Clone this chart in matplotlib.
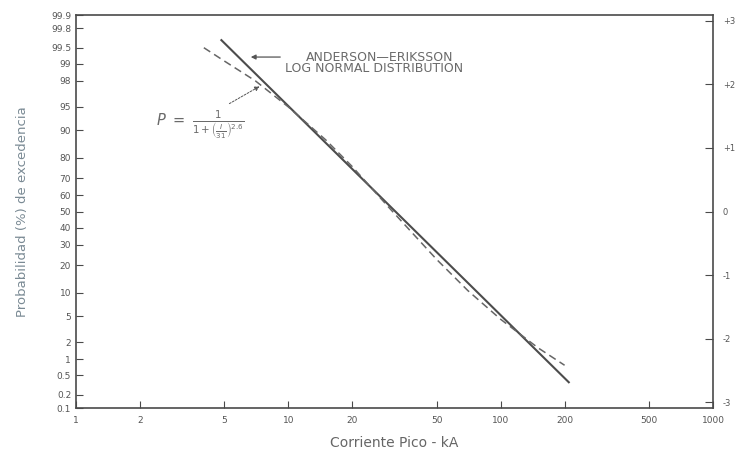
import numpy as np
import matplotlib
matplotlib.use("Agg")
import matplotlib.pyplot as plt
from statistics import NormalDist

# ---- data ----
x_ticks = [1, 2, 5, 10, 20, 50, 100, 200, 500, 1000]
x_ticklabels = ["1", "2", "5", "10", "20", "50", "100", "200", "500", "1000"]
y_ticks = [0.1, 0.2, 0.5, 1, 2, 5, 10, 20, 30, 40, 50, 60, 70, 80, 90, 95, 98, 99, 99.5, 99.8, 99.9]
y_ticklabels = ["0.1", "0.2", "0.5", "1", "2", "5", "10", "20", "30", "40", "50", "60", "70",
                "80", "90", "95", "98", "99", "99.5", "99.8", "99.9"]
sigma_ticks = [-3, -2, -1, 0, 1, 2, 3]
sigma_labels = ["-3", "-2", "-1", "0", "+1", "+2", "+3"]

# Anderson-Eriksson log-normal distribution (straight line on this paper)
lognorm_I = [4.8, 211]
lognorm_P = [99.66, 0.35]

# IEEE curve P = 1/(1+(I/31)^2.6)
ieee_I = [4, 5, 7, 10, 15, 20, 30, 50, 70, 100, 150, 200]
ieee_P = [99.5, 99.1, 98.0, 95.0, 87.0, 76.0, 52.0, 22.5, 10.7, 4.5, 1.6, 0.78]

_nd = NormalDist()
_vinv = np.vectorize(_nd.inv_cdf, otypes=[float])
_vcdf = np.vectorize(_nd.cdf, otypes=[float])


def fwd(p):
    p = np.asarray(p, dtype=float)
    p = np.clip(np.nan_to_num(p / 100.0, nan=0.5), 1e-9, 1 - 1e-9)
    return _vinv(p)


def inv(z):
    z = np.asarray(z, dtype=float)
    z = np.nan_to_num(z, nan=0.0)
    return _vcdf(z) * 100.0


fig = plt.figure(figsize=(7.36, 4.53), dpi=100)
ax = fig.add_axes([76 / 736, 1 - 408 / 453, (713 - 76) / 736, (408 - 15) / 453])

spine_c = "#4a4a4a"
text_c = "#555555"

ax.set_xscale("log")
ax.set_yscale("function", functions=(fwd, inv))
ax.set_xlim(1, 1000)
ax.set_ylim(0.1, 99.9)

ax.plot(lognorm_I, lognorm_P, color="#4c4c4c", lw=1.5, solid_capstyle="butt")
ax.plot(ieee_I, ieee_P, color="#666666", lw=1.1, ls=(0, (5, 3)))

ax.set_xticks(x_ticks)
ax.set_xticklabels(x_ticklabels)
ax.xaxis.set_minor_locator(matplotlib.ticker.NullLocator())
ax.set_yticks(y_ticks)
ax.set_yticklabels(y_ticklabels)
ax.yaxis.set_minor_locator(matplotlib.ticker.NullLocator())
ax.tick_params(axis="both", direction="in", length=5, width=0.8, color=spine_c,
               labelsize=6.5, labelcolor=text_c)
ax.tick_params(axis="x", pad=6)

for s in ax.spines.values():
    s.set_color(spine_c)
    s.set_linewidth(1.2)

# right sigma axis
ax2 = ax.twinx()
ax2.set_ylim(float(fwd(0.1)), float(fwd(99.9)))
ax2.set_yticks(sigma_ticks)
ax2.set_yticklabels(sigma_labels)
ax2.tick_params(axis="y", direction="in", length=6, width=0.8, color=spine_c,
                labelsize=6, labelcolor=text_c, pad=7)
for s in ax2.spines.values():
    s.set_visible(False)

ax.set_xlabel("Corriente Pico - kA", fontsize=10, color="#666666", labelpad=8)
ax.set_ylabel("Probabilidad (%) de excedencia", fontsize=9.5, color="#7a8a94", labelpad=16)

# annotations
ax.text(0.476, 0.893, "ANDERSON\u2014ERIKSSON", transform=ax.transAxes, fontsize=9,
        color="#6a6a6a", ha="center", va="center")
ax.text(0.468, 0.863, "LOG NORMAL DISTRIBUTION", transform=ax.transAxes, fontsize=9,
        color="#6a6a6a", ha="center", va="center")
ax.annotate("", xy=(0.27, 0.893), xytext=(0.325, 0.893), xycoords="axes fraction",
            arrowprops=dict(arrowstyle="-|>", color="#555555", lw=0.9, mutation_scale=7))
ax.annotate("", xy=(0.292, 0.822), xytext=(0.237, 0.771), xycoords="axes fraction",
            arrowprops=dict(arrowstyle="-|>", color="#555555", lw=0.7, mutation_scale=7,
                            linestyle=(0, (2, 1.5))))
ax.text(0.195, 0.72, r"$P\ =\ \frac{1}{1+\left(\frac{I}{31}\right)^{2.6}}$",
        transform=ax.transAxes, fontsize=10.5, color="#6a6a6a", ha="center", va="center")

fig.savefig("out.png", dpi=100, facecolor="white")
